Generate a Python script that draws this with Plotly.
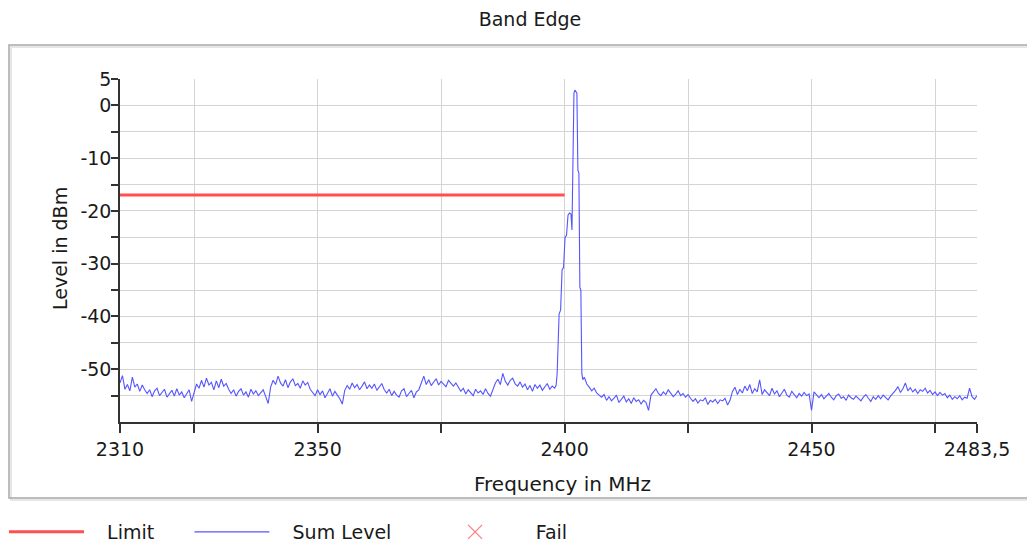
import plotly.graph_objects as go

# ---------------- data ----------------
title_text = "Band Edge"
x_title = "Frequency in MHz"
y_title = "Level in dBm"
legend_names = ["Limit", "Sum Level", "Fail"]

limit_freq = [2310.0, 2400.0]
limit_level = [-17.0, -17.0]

# sweep below the carrier: 2310.0 ... 2398.0 MHz, 0.5 MHz steps
low_start = 2310.0
sweep_step = 0.5
low_level = [
    -52.6, -51.2, -53.8, -52.9, -54.1, -51.5, -53.4, -52.8, -54.2, -53.0, -53.9,
    -54.6, -53.9, -55.2, -54.1, -53.6, -55.0, -54.4, -53.8, -55.3, -54.7,
    -54.0, -55.1, -53.7, -54.9, -54.3, -55.4, -54.5, -53.9, -56.1, -54.6,
    -52.8, -53.6, -52.1, -53.4, -51.7, -53.0, -52.5, -53.9, -52.2, -53.5, -51.9, -53.2, -52.7, -53.8,
    -54.6, -53.9, -55.1, -54.2, -53.7, -54.9, -54.3, -55.3, -53.8, -54.7, -54.1, -55.0, -54.5, -53.9, -55.2, -56.5,
    -53.4, -52.1, -52.9, -51.3, -52.6, -53.2, -52.0, -53.5, -52.4, -51.8, -53.1, -52.7, -53.6, -52.2, -53.0, -52.5, -53.8,
    -54.3, -55.0, -53.9, -54.8, -54.1, -55.4, -54.6, -53.7, -55.1, -54.2, -54.9, -55.6, -56.6, -54.0,
    -53.1, -53.8, -52.6, -53.5, -52.9, -53.9, -53.2, -52.4, -53.7, -53.0, -53.6, -52.8, -54.0, -53.3, -52.7, -53.9,
    -54.5, -53.8, -55.0, -54.2, -54.9, -55.3, -54.1, -53.7, -55.2, -54.6, -54.0, -55.4, -54.3, -53.9,
    -52.4, -51.3, -52.9, -52.0, -53.1, -52.5, -51.8, -53.0, -52.3, -52.8, -53.3, -52.1, -52.7, -53.2, -52.6, -53.4,
    -54.2, -53.6, -54.7, -53.9, -54.4, -55.0, -53.8, -54.5, -54.1, -54.8, -53.7, -54.6, -55.1, -54.0,
    -52.6, -51.9, -52.9, -50.8, -52.3, -53.0, -52.1, -51.7, -52.8, -53.2, -52.4,
    -53.4, -52.8, -53.9, -53.1, -54.2, -52.9, -53.6, -53.0, -54.0, -53.3, -52.7, -53.8, -53.2, -53.6,
]

# carrier
peak_freq = [2398.3, 2398.5, 2398.9, 2399.2, 2399.5, 2399.8, 2400.1, 2400.4, 2400.7,
             2401.0, 2401.3, 2401.5, 2401.7, 2401.9, 2402.1, 2402.3, 2402.5, 2402.7,
             2402.9, 2403.1, 2403.3, 2403.5, 2403.7]
peak_level = [-53.0, -50.8, -39.5, -38.8, -31.2, -30.7, -25.0, -24.6, -20.8,
              -20.4, -20.6, -23.6, -11.7, 2.3, 2.9, 2.5, 2.3, -12.3,
              -12.8, -34.5, -35.0, -50.8, -52.0]

# sweep above the carrier: 2404.0 ... 2483.5 MHz, 0.5 MHz steps
high_start = 2404.0
high_level = [
    -51.5, -52.8, -53.4, -54.1, -53.6, -54.5, -54.9,
    -55.3, -54.8, -55.9, -55.2, -56.0, -55.5, -54.9, -56.3, -55.7, -55.1,
    -56.2, -55.6, -56.5, -55.4, -56.1, -55.8, -56.6, -55.9, -56.3, -57.8,
    -54.9, -54.2, -53.7, -54.6, -55.0, -54.3, -54.8, -53.9, -54.5, -55.2, -54.7, -54.1, -55.0, -54.6, -55.3, -54.8, -55.5,
    -56.1, -55.6, -56.4, -55.8, -56.0, -55.4, -56.7, -55.9, -56.2, -55.7, -56.5, -55.8, -56.0, -55.5, -56.8, -55.9,
    -54.2, -53.4, -54.8, -53.8, -54.5, -53.2, -54.1, -52.9, -54.6, -53.7, -54.3, -52.0, -54.8, -53.9, -54.4, -55.0,
    -53.6, -54.7, -54.1, -55.2, -54.5, -53.8, -54.9, -55.3, -54.2, -54.8, -55.4, -54.6, -55.1, -54.4, -55.0, -54.7,
    -57.8, -54.3,
    -54.9, -55.4, -54.8, -55.6, -55.1, -54.6, -55.3, -55.8, -55.0, -54.7, -55.5, -55.2, -55.9, -54.9, -55.4, -55.7,
    -55.1, -55.6, -56.0, -55.3, -54.8, -55.5, -56.1, -55.2, -55.7, -55.0, -55.6, -54.9, -55.3, -55.8, -55.1, -54.6,
    -54.0, -53.3, -54.4, -53.7, -52.6, -54.1, -53.5, -54.3, -53.8, -54.6, -53.9, -54.2, -53.6, -54.5, -54.0, -54.8,
    -54.3, -55.0, -54.4, -54.9, -54.6,
    -55.4, -54.9, -55.7, -55.2, -55.6, -55.0, -55.8, -55.3, -55.5, -53.6, -55.2, -55.7, -55.0,
]

x_tickvals = [2310, 2325, 2350, 2375, 2400, 2425, 2450, 2475, 2483.5]
x_ticktext = ["2310", "", "2350", "", "2400", "", "2450", "", "2483,5"]
y_tickvals = [5, 0, -5, -10, -15, -20, -25, -30, -35, -40, -45, -50, -55]
y_ticktext = ["5", "0", "", "-10", "", "-20", "", "-30", "", "-40", "", "-50", ""]

# ---------------- build ----------------
low_freq = [low_start + sweep_step * i for i in range(len(low_level))]
high_freq = [high_start + sweep_step * i for i in range(len(high_level))]
sum_freq = low_freq + peak_freq + high_freq
sum_level = low_level + peak_level + high_level

# The page body adds an 8 px margin, so the figure is laid out 8 px up-left
OFF = 8
W, H = 1035 - OFF, 547 - OFF
L, R, T, B = 120 - OFF, 977 - OFF, 79 - OFF, 422 - OFF  # plot area in figure pixels


def px_x(p):  # p: pixel in the window
    return (p - OFF - L) / (R - L)


def px_y(p):
    return (B - (p - OFF)) / (B - T)


FONT = "DejaVu Sans, Verdana, sans-serif"
TXT = "#1a1a1a"
NB = "\u00a0"

fig = go.Figure()
fig.add_trace(go.Scatter(x=limit_freq, y=limit_level, mode="lines",
                         name=NB * 3 + legend_names[0] + NB * 5,
                         line=dict(color="#ff4f4f", width=3)))
fig.add_trace(go.Scatter(x=sum_freq, y=sum_level, mode="lines",
                         name=NB * 3 + legend_names[1] + NB * 6,
                         line=dict(color="rgb(85,85,255)", width=1.1)))
fig.add_trace(go.Scatter(x=[None], y=[None], mode="markers",
                         name=NB * 3 + legend_names[2] + NB * 2,
                         marker=dict(symbol="x-thin-open", size=14, color="#ff7b7b",
                                     line=dict(color="#ff7b7b", width=1.2))))

fig.update_layout(
    width=W, height=H,
    margin=dict(l=L, r=W - R, t=T, b=H - B, pad=0, autoexpand=False),
    paper_bgcolor="white", plot_bgcolor="white",
    font=dict(family=FONT, size=19, color=TXT),
    title=dict(text=title_text, x=(530 - OFF) / W, xanchor="center", y=1 - (19 - OFF) / H,
               yanchor="middle", font=dict(size=19, color=TXT)),
    showlegend=True,
    legend=dict(orientation="h", x=px_x(4), xanchor="left", y=px_y(532), yanchor="middle",
                font=dict(size=19, color=TXT), itemwidth=75, bgcolor="rgba(0,0,0,0)",
                traceorder="normal"),
    xaxis=dict(range=[2310, 2483.5], tickvals=x_tickvals, ticktext=x_ticktext,
               showgrid=True, gridcolor="#d4d4d4", gridwidth=1,
               showline=True, linecolor="#333333", linewidth=1.5,
               ticks="outside", ticklen=9, tickcolor="#333333", tickwidth=1.5,
               zeroline=False, tickfont=dict(size=19, color=TXT)),
    yaxis=dict(range=[-60, 5], tickvals=y_tickvals, ticktext=y_ticktext,
               showgrid=True, gridcolor="#d4d4d4", gridwidth=1,
               showline=True, linecolor="#333333", linewidth=1.5,
               ticks="outside", ticklen=7, tickcolor="#333333", tickwidth=1.5,
               ticklabelstandoff=-4,
               zeroline=False, tickfont=dict(size=19, color=TXT)),
)

# outer frame of the chart panel
fig.add_shape(type="rect", xref="paper", yref="paper",
              x0=px_x(11), x1=px_x(1045), y0=px_y(500), y1=px_y(47),
              line=dict(color="#e6e6e6", width=2), layer="below")
fig.add_shape(type="rect", xref="paper", yref="paper",
              x0=px_x(9), x1=px_x(1040), y0=px_y(498), y1=px_y(45),
              line=dict(color="#a8a8a8", width=1.5), layer="below")

fig.add_annotation(text=x_title, xref="paper", yref="paper", x=px_x(562), y=px_y(484),
                   xanchor="center", yanchor="middle", showarrow=False,
                   font=dict(size=20, color=TXT))
fig.add_annotation(text=y_title, xref="paper", yref="paper", x=px_x(60), y=px_y(249),
                   xanchor="center", yanchor="middle", showarrow=False, textangle=-90,
                   font=dict(size=19, color=TXT))

fig.write_html("out.html")
